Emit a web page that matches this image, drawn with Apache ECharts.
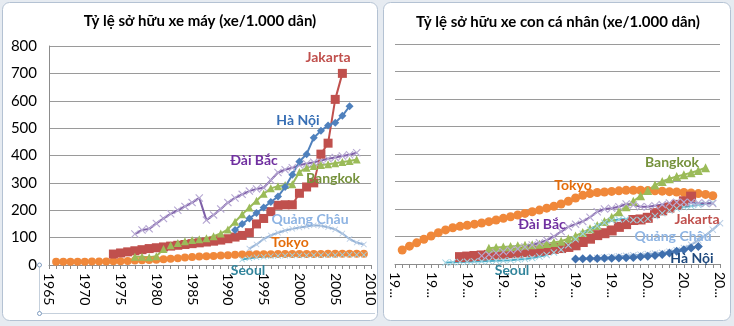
<!DOCTYPE html>
<html><head><meta charset="utf-8">
<script src="https://cdn.jsdelivr.net/npm/echarts@6/dist/echarts.min.js"></script>
<style>html,body{margin:0;padding:0;background:#e6ebf1;}#c{width:734px;height:326px;}</style>
</head><body><div id="c"></div>
<script>
// ---------- data ----------
const xTicks = [1965,1970,1975,1980,1985,1990,1995,2000,2005,2010];
const yTicks = [0,100,200,300,400,500,600,700,800];

// Chart 1: motorbike ownership (per 1,000 people)
const motoTokyoStart = 1966;
const motoTokyo = [12,12,12,12,12,13,13,13,14,14,15,16,17,18,19,21,23,25,27,29,31,32,33,35,36,37,38,38,39,39,39,40,40,40,40,40,40,40,41,41,41,41,41,41];
const motoJakartaStart = 1974;
const motoJakarta = [40,44,48,52,56,60,63,66,69,72,75,78,81,84,87,91,96,102,108,118,150,170,195,218,220,220,262,285,300,405,445,605,700];
const motoBangkokStart = 1977;
const motoBangkok = [30,30,28,32,58,72,80,87,91,94,98,105,115,130,158,185,210,235,260,280,288,292,295,340,355,362,365,368,372,376,380,385];
const motoHanoiStart = 1991;
const motoHanoi = [128,150,170,190,210,230,250,285,330,378,405,465,490,510,520,545,580];
const motoTaipeiStart = 1977;
const motoTaipei = [113,128,132,152,170,187,200,214,228,245,164,183,205,228,245,258,270,278,282,310,338,348,355,365,370,375,382,388,393,398,403,410];
const motoGuangzhouStart = 1993;
const motoGuangzhou = [60,75,95,108,118,126,132,137,141,145,143,138,130,115,95,82,75];
const motoSeoulStart = 1992;
const motoSeoul = [20,25,28,30,32,33,34,35,35,35,36,36,36,36,37,37,37,37];

// Chart 2: private car ownership (per 1,000 people)
const carTokyoStart = 1966;
const carTokyo = [51,65,77,90,102,114,124,132,137,141,145,149,154,160,166,172,178,184,190,196,203,210,218,228,240,250,256,260,262,264,266,268,268,268,267,266,265,263,262,260,258,256,253,248];
const carJakartaStart = 1974;
const carJakarta = [25,27,29,31,33,35,37,39,41,43,45,48,51,55,58,62,68,80,92,105,112,122,135,145,160,162,168,185,195,205,215,228,245];
const carBangkokStart = 1978;
const carBangkok = [57,60,62,64,66,68,70,72,75,78,83,92,102,115,128,140,155,170,190,208,228,248,267,287,300,310,318,325,332,340,350];
const carTaipeiStart = 1977;
const carTaipei = [30,35,40,45,50,55,62,69,77,87,100,118,135,145,155,170,190,200,203,208,218,215,208,208,212,216,222,225,225,224,222,221,220];
const carSeoulStart = 1972;
const carSeoul = [5,6,7,8,9,10,11,12,13,14,16,18,22,27,33,42,52,68,90,110,125,138,150,158,162,164,160,160,165,175,185,195,202,207,211,215,219,223];
const carGuangzhouStart = 1993;
const carGuangzhou = [22,24,26,28,30,32,34,36,38,41,45,50,58,70,86,104,125,148];
const carHanoiStart = 1990;
const carHanoi = [18,19,20,20,21,21,22,23,24,26,28,31,35,40,46,52,58,64];

// ---------- helpers ----------
const pts = (start, vals) => vals.map((v, i) => [start + i, v]);
const XSYM = 'path://M0,1L1,0L5,4L9,0L10,1L6,5L10,9L9,10L5,6L1,10L0,9L4,5Z';
const FONT = 'Lato';

const C = {
  tokyo: '#F0883A', jakarta: '#C0504D', bangkok: '#9BBB59', hanoi: '#4F81BD',
  taipei: '#7F60A8', taipeiMk: '#B7A9D3', guang: '#95B3D7', guangMk: '#B9CDE5',
  seoul: '#4BACC6', seoulMk: '#9FD3E2'
};

function ser(name, gi, data, color, symbol, size, mkColor, lw) {
  return {
    type: 'line', name, xAxisIndex: gi, yAxisIndex: gi, data,
    symbol, symbolSize: size, showSymbol: true, animation: false,
    lineStyle: { color, width: lw || 2 },
    itemStyle: { color: mkColor || color, borderWidth: 0 },
    emphasis: { disabled: true }
  };
}

function xAxis(gi, fmt) {
  return {
    type: 'value', gridIndex: gi, min: 1965, max: 2010, interval: 5,
    axisLine: { show: true, lineStyle: { color: '#8c8c8c', width: 1 } },
    axisTick: { show: true, length: 4, lineStyle: { color: '#8c8c8c' } },
    minorTick: { show: true, splitNumber: 5, length: 4, lineStyle: { color: '#8c8c8c' } },
    splitLine: { show: false },
    axisLabel: { rotate: -90, fontSize: 14, fontFamily: FONT, color: '#000', margin: 8, formatter: fmt, showMinLabel: true, showMaxLabel: true }
  };
}
function yAxis(gi, showLabels) {
  return {
    type: 'value', gridIndex: gi, min: 0, max: 800, interval: 100,
    axisLine: { show: showLabels, lineStyle: { color: '#8c8c8c' } },
    axisTick: { show: false },
    splitLine: { show: true, lineStyle: { color: '#9a9a9a', width: 1 } },
    axisLabel: { show: showLabels, fontSize: 15, fontFamily: FONT, color: '#000', margin: 12 }
  };
}

function lbl(x, y, text, color) {
  return { type: 'text', x, y, z: 100, style: { text, fill: color, font: 'bold 14px ' + FONT, textAlign: 'center', textVerticalAlign: 'middle' } };
}

const chart = echarts.init(document.getElementById('c'), null, { renderer: 'canvas' });
chart.setOption({
  animation: false,
  backgroundColor: 'transparent',
  grid: [
    { left: 49, top: 46, width: 322, height: 219 },
    { left: 395, top: 44, width: 325, height: 220 }
  ],
  xAxis: [
    xAxis(0, v => String(v)),
    xAxis(1, v => String(v).slice(0, 2) + '...')
  ],
  yAxis: [yAxis(0, true), yAxis(1, false)],
  series: [
    ser('Tokyo', 0, pts(motoTokyoStart, motoTokyo), C.tokyo, 'circle', 8),
    ser('Seoul', 0, pts(motoSeoulStart, motoSeoul), C.seoul, XSYM, 6, C.seoulMk),
    ser('Đài Bắc', 0, pts(motoTaipeiStart, motoTaipei), C.taipei, XSYM, 8, C.taipeiMk),
    ser('Jakarta', 0, pts(motoJakartaStart, motoJakarta), C.jakarta, 'rect', 9),
    ser('Bangkok', 0, pts(motoBangkokStart, motoBangkok), C.bangkok, 'triangle', 8),
    ser('Quảng Châu', 0, pts(motoGuangzhouStart, motoGuangzhou), C.guang, XSYM, 6, C.guangMk),
    ser('Hà Nội', 0, pts(motoHanoiStart, motoHanoi), C.hanoi, 'diamond', 8),

    ser('Tokyo', 1, pts(carTokyoStart, carTokyo), C.tokyo, 'circle', 9),
    ser('Jakarta', 1, pts(carJakartaStart, carJakarta), C.jakarta, 'rect', 10),
    ser('Bangkok', 1, pts(carBangkokStart, carBangkok), C.bangkok, 'triangle', 9),
    ser('Seoul', 1, pts(carSeoulStart, carSeoul), C.seoul, XSYM, 7, C.seoulMk),
    ser('Đài Bắc', 1, pts(carTaipeiStart, carTaipei), C.taipei, XSYM, 8, C.taipeiMk),
    ser('Quảng Châu', 1, pts(carGuangzhouStart, carGuangzhou), C.guang, XSYM, 7, C.guangMk),
    ser('Hà Nội', 1, pts(carHanoiStart, carHanoi), '#3F6FAD', 'diamond', 9)
  ],
  graphic: { elements: [
    { type: 'rect', z: -100, shape: { x: 2.5, y: 2.5, width: 375, height: 318, r: 7 }, style: { fill: '#fff', stroke: '#b4c2d3', lineWidth: 1 } },
    { type: 'rect', z: -100, shape: { x: 383.5, y: 2.5, width: 347, height: 318, r: 7 }, style: { fill: '#fff', stroke: '#b4c2d3', lineWidth: 1 } },
    { type: 'polyline', z: -50, shape: { points: [[39.5, 265], [39.5, 313.5], [375, 313.5]] }, style: { stroke: '#c5d0dc', lineWidth: 1, fill: null } },
    { type: 'circle', z: 50, shape: { cx: 39.5, cy: 265, r: 2 }, style: { fill: '#fff', stroke: '#7f9cc0' } },
    { type: 'circle', z: 50, shape: { cx: 39.5, cy: 313.5, r: 2 }, style: { fill: '#fff', stroke: '#7f9cc0' } },
    { type: 'text', x: 200, y: 21, z: 100, style: { text: 'Tỷ lệ sở hữu xe máy (xe/1.000 dân)', fill: '#000', font: 'bold 15px ' + FONT, textAlign: 'center', textVerticalAlign: 'middle' } },
    { type: 'text', x: 558, y: 22, z: 100, style: { text: 'Tỷ lệ sở hữu xe con cá nhân (xe/1.000 dân)', fill: '#000', font: 'bold 15px ' + FONT, textAlign: 'center', textVerticalAlign: 'middle' } },
    lbl(328, 57, 'Jakarta', '#C0504D'),
    lbl(298, 120, 'Hà Nội', '#376FB5'),
    lbl(254, 160, 'Đài Bắc', '#7030A0'),
    lbl(333, 178, 'Bangkok', '#76923C'),
    lbl(310, 219, 'Quảng Châu', '#8EB4E3'),
    lbl(290, 242, 'Tokyo', '#E46C0A'),
    lbl(248, 270, 'Seoul', '#31849B'),
    lbl(672, 162, 'Bangkok', '#76923C'),
    lbl(573, 185, 'Tokyo', '#E46C0A'),
    lbl(542, 224, 'Đài Bắc', '#7030A0'),
    lbl(697, 219, 'Jakarta', '#C0504D'),
    lbl(673, 236, 'Quảng Châu', '#8EB4E3'),
    lbl(692, 258, 'Hà Nội', '#1F497D'),
    lbl(512, 270, 'Seoul', '#31849B')
  ] }
});
</script>
</body></html>
